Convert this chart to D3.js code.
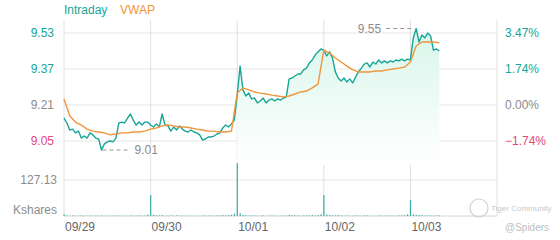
<!DOCTYPE html>
<html>
<head>
<meta charset="utf-8">
<script src="https://cdn.jsdelivr.net/npm/d3@7"></script>
<style>
  body { margin: 0; background: #fff; }
  svg { display: block; font-family: "Liberation Sans", Arial, sans-serif; }
</style>
</head>
<body>
<div id="chart"></div>
<script>
// Data
const dayLabels = ["09/29", "09/30", "10/01", "10/02", "10/03"];
const priceTicks = [9.53, 9.37, 9.21, 9.05];
const prevClose = 9.21;
const volumeTick = 127.13;
const pointsPerDay = 30;   // intraday / volume samples per session
const vwapPerDay = 15;     // vwap samples per session

const intraday = [
    // 09/29
    9.152, 9.130, 9.099, 9.103, 9.086, 9.094, 9.063, 9.072, 9.063, 9.086,
    9.077, 9.063, 9.059, 9.010, 9.037, 9.046, 9.050, 9.046, 9.063, 9.130,
    9.134, 9.130, 9.152, 9.170, 9.143, 9.121, 9.134, 9.121, 9.134, 9.134,
    // 09/30
    9.121, 9.112, 9.126, 9.112, 9.170, 9.121, 9.117, 9.094, 9.112, 9.099,
    9.117, 9.103, 9.094, 9.090, 9.099, 9.090, 9.086, 9.077, 9.054, 9.059,
    9.068, 9.068, 9.072, 9.081, 9.086, 9.108, 9.121, 9.112, 9.126, 9.143,
    // 10/01
    9.254, 9.383, 9.277, 9.250, 9.263, 9.237, 9.241, 9.219, 9.228, 9.241,
    9.219, 9.232, 9.237, 9.228, 9.237, 9.232, 9.241, 9.246, 9.326, 9.330,
    9.339, 9.348, 9.348, 9.366, 9.374, 9.397, 9.410, 9.432, 9.446, 9.459,
    // 10/02
    9.454, 9.428, 9.446, 9.419, 9.357, 9.330, 9.317, 9.330, 9.312, 9.326,
    9.308, 9.334, 9.357, 9.374, 9.392, 9.397, 9.379, 9.401, 9.392, 9.410,
    9.397, 9.406, 9.397, 9.406, 9.401, 9.410, 9.406, 9.414, 9.406, 9.414,
    // 10/03 (partial)
    9.410, 9.508, 9.550, 9.490, 9.521, 9.508, 9.530, 9.517, 9.454, 9.459,
    9.450
];

const vwap = [
    9.237, 9.161, 9.134, 9.121, 9.103, 9.094, 9.090, 9.086, 9.077, 9.081, 9.086, 9.086, 9.090, 9.090, 9.094,
    9.103, 9.108, 9.117, 9.121, 9.117, 9.112, 9.112, 9.108, 9.103, 9.099, 9.094, 9.094, 9.090, 9.090, 9.094,
    9.263, 9.286, 9.277, 9.268, 9.263, 9.259, 9.254, 9.250, 9.246, 9.250, 9.259, 9.268, 9.272, 9.286, 9.303,
    9.454, 9.441, 9.419, 9.401, 9.383, 9.366, 9.357, 9.357, 9.357, 9.361, 9.361, 9.366, 9.370, 9.374, 9.379,
    9.401, 9.472, 9.490, 9.490, 9.490, 9.486
];

// Kshares
const volume = [
    6, 2, 1, 2, 1, 1, 2, 1, 1, 2, 1, 1, 1, 2, 1, 1, 1, 1, 2, 1, 1, 1, 1, 2, 1, 1, 2, 1, 2, 5,
    74, 4, 2, 2, 3, 1, 1, 2, 1, 2, 1, 1, 1, 1, 1, 1, 1, 1, 2, 1, 1, 2, 1, 2, 2, 3, 2, 3, 4, 8,
    187, 10, 4, 3, 2, 2, 2, 1, 1, 2, 1, 1, 2, 1, 1, 1, 1, 2, 4, 3, 2, 2, 1, 2, 2, 2, 3, 2, 3, 6,
    74, 5, 3, 2, 2, 3, 2, 1, 2, 1, 1, 2, 1, 1, 2, 2, 1, 1, 1, 2, 1, 1, 1, 2, 1, 1, 2, 2, 3, 6,
    56, 6, 4, 3, 3, 2, 2, 2, 1, 2, 2
];

const teal = "#17a596";
const orange = "#f0953c";
const red = "#e2497a";
const gray = "#8c8c8c";

const width = 560, height = 240;
const plotLeft = 64, plotRight = 497, plotTop = 20, volBase = 216;

const svg = d3.select("#chart")
    .append("svg")
    .attr("width", width)
    .attr("height", height);

const x = d3.scaleLinear().domain([0, dayLabels.length]).range([plotLeft, plotRight]);
const y = d3.scaleLinear().domain([9.05, 9.53]).range([141, 33]);
const yVol = d3.scaleLinear().domain([0, volumeTick]).range([volBase, 180]);

const tickColor = v => Math.abs(v - prevClose) < 1e-9 ? gray : (v > prevClose ? teal : red);
const pct = d3.format(".2f");

// gradient for the filled area
const grad = svg.append("defs").append("linearGradient")
    .attr("id", "fillGrad")
    .attr("gradientUnits", "userSpaceOnUse")
    .attr("x1", 0).attr("x2", 0)
    .attr("y1", 28).attr("y2", 165);
grad.append("stop").attr("offset", "0%").attr("stop-color", "#d8f6ea");
grad.append("stop").attr("offset", "100%").attr("stop-color", "#ffffff");

// horizontal grid
svg.append("g")
    .selectAll("line")
    .data(priceTicks)
    .enter().append("line")
    .attr("x1", plotLeft).attr("x2", plotRight)
    .attr("y1", d => y(d)).attr("y2", d => y(d))
    .attr("stroke", "#e6e6e6");

svg.append("line")
    .attr("x1", plotLeft).attr("x2", plotRight)
    .attr("y1", yVol(volumeTick)).attr("y2", yVol(volumeTick))
    .attr("stroke", "#e6e6e6");

svg.append("line")
    .attr("x1", plotLeft).attr("x2", plotRight)
    .attr("y1", volBase).attr("y2", volBase)
    .attr("stroke", "#d4d4d4");

// vertical day lines
svg.append("g")
    .selectAll("line")
    .data(d3.range(dayLabels.length + 1))
    .enter().append("line")
    .attr("x1", d => x(d)).attr("x2", d => x(d))
    .attr("y1", plotTop).attr("y2", volBase)
    .attr("stroke", "#e0e0e0");

// area fill from 10/01 on
const pts = intraday.map((v, i) => ({ t: i / pointsPerDay, v: v }));
const area = d3.area()
    .x(d => x(d.t))
    .y0(165)
    .y1(d => y(d.v));

svg.append("path")
    .datum(pts.slice(2 * pointsPerDay))
    .attr("d", area)
    .attr("fill", "url(#fillGrad)");

// intraday line
const line = d3.line()
    .x(d => x(d.t))
    .y(d => y(d.v));

svg.append("path")
    .datum(pts)
    .attr("d", line)
    .attr("fill", "none")
    .attr("stroke", teal)
    .attr("stroke-width", 1.4)
    .attr("stroke-linejoin", "round");

// vwap line
svg.append("path")
    .datum(vwap.map((v, i) => ({ t: i / vwapPerDay, v: v })))
    .attr("d", line)
    .attr("fill", "none")
    .attr("stroke", orange)
    .attr("stroke-width", 1.4)
    .attr("stroke-linejoin", "round");

// volume bars
svg.append("g")
    .selectAll("rect")
    .data(volume)
    .enter().append("rect")
    .attr("x", (d, i) => x(i / pointsPerDay) - 0.5)
    .attr("y", d => yVol(d))
    .attr("width", 1.2)
    .attr("height", d => volBase - yVol(d))
    .attr("fill", teal)
    .attr("opacity", 0.85);

// left price axis
const axisL = svg.append("g")
    .attr("transform", `translate(${plotLeft - 7},0)`)
    .call(d3.axisLeft(y).tickValues(priceTicks).tickSize(0).tickFormat(d3.format(".2f")));
axisL.select(".domain").remove();
axisL.selectAll("text")
    .attr("fill", d => tickColor(d))
    .style("font-size", "12px")
    .style("font-family", "Liberation Sans, Arial, sans-serif");

// right percent axis
const axisR = svg.append("g")
    .attr("transform", `translate(${plotRight + 5},0)`)
    .call(d3.axisRight(y).tickValues(priceTicks).tickSize(0)
        .tickFormat(d => pct((d / prevClose - 1) * 100) + "%"));
axisR.select(".domain").remove();
axisR.selectAll("text")
    .attr("fill", d => tickColor(d))
    .style("font-size", "12px")
    .style("font-family", "Liberation Sans, Arial, sans-serif");

// volume axis labels
svg.append("text")
    .attr("x", plotLeft - 7).attr("y", yVol(volumeTick))
    .attr("dy", "0.35em")
    .attr("text-anchor", "end")
    .attr("fill", gray)
    .style("font-size", "12px")
    .text(d3.format(".2f")(volumeTick));

svg.append("text")
    .attr("x", plotLeft - 7).attr("y", 214)
    .attr("text-anchor", "end")
    .attr("fill", gray)
    .style("font-size", "12px")
    .text("Kshares");

// date labels
svg.append("g")
    .selectAll("text")
    .data(dayLabels)
    .enter().append("text")
    .attr("x", (d, i) => x(i) + 1)
    .attr("y", 231)
    .attr("fill", "#666")
    .style("font-size", "12px")
    .text(d => d);

// legend
svg.append("text").attr("x", 64).attr("y", 14)
    .attr("fill", teal).style("font-size", "12px").text("Intraday");
svg.append("text").attr("x", 120).attr("y", 14)
    .attr("fill", orange).style("font-size", "12px").text("VWAP");

// high / low markers
const maxI = d3.maxIndex(intraday);
const minI = d3.minIndex(intraday);
const maxX = x(maxI / pointsPerDay), maxY = y(intraday[maxI]);
const minX = x(minI / pointsPerDay), minY = y(intraday[minI]);

svg.append("line")
    .attr("x1", maxX - 30).attr("x2", maxX - 3)
    .attr("y1", maxY).attr("y2", maxY)
    .attr("stroke", "#999").attr("stroke-dasharray", "4,3");
svg.append("text")
    .attr("x", maxX - 35).attr("y", maxY).attr("dy", "0.35em")
    .attr("text-anchor", "end").attr("fill", gray)
    .style("font-size", "12px")
    .text(d3.format(".2f")(intraday[maxI]));

svg.append("line")
    .attr("x1", minX + 1).attr("x2", minX + 29)
    .attr("y1", minY).attr("y2", minY)
    .attr("stroke", "#999").attr("stroke-dasharray", "4,3");
svg.append("text")
    .attr("x", minX + 33).attr("y", minY).attr("dy", "0.35em")
    .attr("fill", gray)
    .style("font-size", "12px")
    .text(d3.format(".2f")(intraday[minI]));

// watermark
svg.append("circle")
    .attr("cx", 479).attr("cy", 208).attr("r", 9)
    .attr("fill", "none").attr("stroke", "#d0d0d0").attr("stroke-width", 1.2);
svg.append("text").attr("x", 491).attr("y", 211)
    .attr("fill", "#c8c8c8").style("font-size", "8px").text("Tiger Community");
svg.append("text").attr("x", 505).attr("y", 231)
    .attr("fill", "#c0c0c0").style("font-size", "10px").text("@Spiders");
</script>
</body>
</html>
